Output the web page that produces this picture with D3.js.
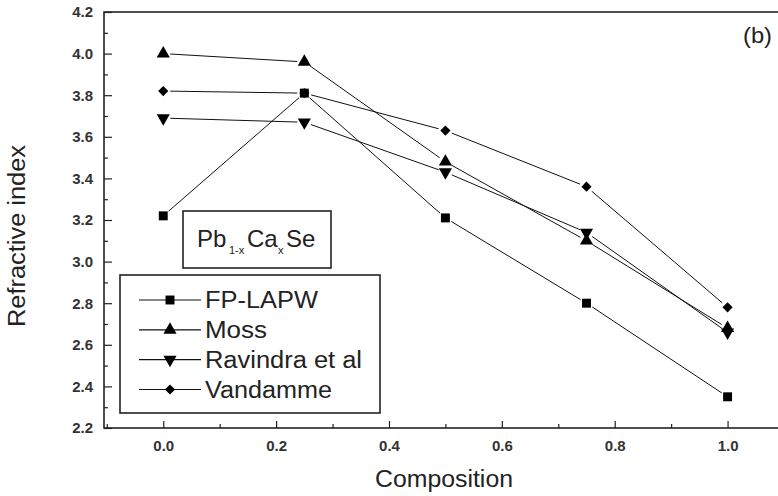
<!DOCTYPE html>
<html>
<head>
<meta charset="utf-8">
<script src="https://cdn.jsdelivr.net/npm/d3@7"></script>
<style>
  body { margin: 0; background: #fff; }
  svg { display: block; font-family: "Liberation Sans", Arial, sans-serif; }
  .tick text { font-size: 15px; font-weight: bold; fill: #333; }
  .tick line { stroke: #222; stroke-width: 1.2; }
  .seg { stroke: #111; stroke-width: 1; }
</style>
</head>
<body>
<div id="chart"></div>
<script>
// values
const composition = [0, 0.25, 0.5, 0.75, 1.0];
const fpLapw   = [3.22, 3.81, 3.21, 2.80, 2.35];
const moss     = [4.00, 3.96, 3.48, 3.10, 2.68];
const ravindra = [3.69, 3.67, 3.43, 3.14, 2.66];
const vandamme = [3.82, 3.81, 3.63, 3.36, 2.78];

const xMajor = [0, 0.2, 0.4, 0.6, 0.8, 1.0];
const xMinor = [-0.1, 0.1, 0.3, 0.5, 0.7, 0.9];
const yMajor = [2.2, 2.4, 2.6, 2.8, 3.0, 3.2, 3.4, 3.6, 3.8, 4.0, 4.2];
const yMinor = [2.3, 2.5, 2.7, 2.9, 3.1, 3.3, 3.5, 3.7, 3.9, 4.1];

const series = [
  { name: 'FP-LAPW', values: fpLapw, symbol: d3.symbolSquare, size: 80, rot: 0, textLen: 113 },
  { name: 'Moss', values: moss, symbol: d3.symbolTriangle, size: 75, rot: 0, textLen: 62 },
  { name: 'Ravindra et al', values: ravindra, symbol: d3.symbolTriangle, size: 75, rot: 180, textLen: 157 },
  { name: 'Vandamme', values: vandamme, symbol: d3.symbolSquare, size: 52, rot: 45, textLen: 127 }
];

const W = 778, H = 496;
const plot = { left: 104, top: 12, right: 784, bottom: 428 };

const svg = d3.select('#chart').append('svg').attr('width', W).attr('height', H);

const x = d3.scaleLinear().domain([-0.105, 1.1]).range([plot.left, plot.right]);
const y = d3.scaleLinear().domain([2.2, 4.2]).range([plot.bottom, plot.top]);

// frame (right side runs off the image)
svg.append('rect')
  .attr('x', plot.left).attr('y', plot.top)
  .attr('width', plot.right - plot.left).attr('height', plot.bottom - plot.top)
  .attr('fill', 'none').attr('stroke', '#222').attr('stroke-width', 1.6);

function drawAxes() {
  const xAx = svg.append('g').attr('transform', `translate(0,${plot.bottom})`)
    .call(d3.axisBottom(x).tickValues(xMajor).tickSize(-7).tickSizeOuter(0)
      .tickPadding(12).tickFormat(d3.format('.1f')));
  xAx.select('.domain').remove();
  const xMin = svg.append('g').attr('transform', `translate(0,${plot.bottom})`)
    .call(d3.axisBottom(x).tickValues(xMinor).tickSize(-4).tickSizeOuter(0).tickFormat(''));
  xMin.select('.domain').remove();

  const yAx = svg.append('g').attr('transform', `translate(${plot.left},0)`)
    .call(d3.axisLeft(y).tickValues(yMajor).tickSize(-8).tickSizeOuter(0)
      .tickPadding(11).tickFormat(d3.format('.1f')));
  yAx.select('.domain').remove();
  const yMin = svg.append('g').attr('transform', `translate(${plot.left},0)`)
    .call(d3.axisLeft(y).tickValues(yMinor).tickSize(-4).tickSizeOuter(0).tickFormat(''));
  yMin.select('.domain').remove();

  svg.append('text')
    .attr('transform', 'translate(25,236) rotate(-90)')
    .attr('text-anchor', 'middle')
    .attr('font-size', 23).attr('fill', '#222')
    .attr('textLength', 182).attr('lengthAdjust', 'spacingAndGlyphs')
    .text('Refractive index');

  svg.append('text')
    .attr('x', 444).attr('y', 487)
    .attr('text-anchor', 'middle')
    .attr('font-size', 23).attr('fill', '#222')
    .attr('textLength', 138).attr('lengthAdjust', 'spacingAndGlyphs')
    .text('Composition');

  svg.append('text')
    .attr('x', 743).attr('y', 43)
    .attr('font-size', 22).attr('fill', '#222')
    .attr('textLength', 29).attr('lengthAdjust', 'spacingAndGlyphs')
    .text('(b)');
}

function drawSeries() {
  const gap = 7;
  // reverse so FP-LAPW ends up on top where points coincide
  series.slice().reverse().forEach(s => {
    const pts = composition.map((c, i) => [x(c), y(s.values[i])]);
    const grp = svg.append('g');
    // Origin-style lines that stop short of the markers
    for (let i = 0; i < pts.length - 1; i++) {
      const [x0, y0] = pts[i], [x1, y1] = pts[i + 1];
      const len = Math.hypot(x1 - x0, y1 - y0);
      const ux = (x1 - x0) / len, uy = (y1 - y0) / len;
      grp.append('line').attr('class', 'seg')
        .attr('x1', x0 + ux * gap).attr('y1', y0 + uy * gap)
        .attr('x2', x1 - ux * gap).attr('y2', y1 - uy * gap);
    }
    grp.selectAll('path.mk').data(pts).enter().append('path')
      .attr('class', 'mk')
      .attr('d', d3.symbol().type(s.symbol).size(s.size))
      .attr('transform', d => `translate(${d[0]},${d[1]}) rotate(${s.rot})`)
      .attr('fill', '#000');
  });
}

function drawLegend() {
  svg.append('rect')
    .attr('x', 120).attr('y', 275).attr('width', 260).attr('height', 138)
    .attr('fill', '#fff').attr('stroke', '#222').attr('stroke-width', 1.6);

  const rowY = d3.scalePoint().domain(series.map(s => s.name)).range([300, 389.5]);
  series.forEach(s => {
    const yy = rowY(s.name);
    const row = svg.append('g');
    row.append('line').attr('x1', 139).attr('x2', 201).attr('y1', yy).attr('y2', yy)
      .attr('stroke', '#111').attr('stroke-width', 1.2);
    row.append('path')
      .attr('d', d3.symbol().type(s.symbol).size(s.size))
      .attr('transform', `translate(170,${yy}) rotate(${s.rot})`)
      .attr('fill', '#000');
    row.append('text')
      .attr('x', 205).attr('y', yy + 8)
      .attr('font-size', 23).attr('fill', '#222')
      .attr('textLength', s.textLen).attr('lengthAdjust', 'spacingAndGlyphs')
      .text(s.name);
  });

  // compound label box
  svg.append('rect')
    .attr('x', 183).attr('y', 211).attr('width', 148).attr('height', 57)
    .attr('fill', '#fff').attr('stroke', '#222').attr('stroke-width', 1.6);
  const lbl = svg.append('text').attr('y', 247).attr('fill', '#222').attr('font-size', 24);
  lbl.append('tspan').attr('x', 197).text('Pb');
  lbl.append('tspan').attr('x', 229).attr('dy', 7).attr('font-size', 11).text('1-x');
  lbl.append('tspan').attr('x', 247).attr('dy', -7).text('Ca');
  lbl.append('tspan').attr('x', 278).attr('dy', 7).attr('font-size', 11).text('x');
  lbl.append('tspan').attr('x', 286).attr('dy', -7).text('Se');
}

drawAxes();
drawSeries();
drawLegend();
</script>
</body>
</html>
